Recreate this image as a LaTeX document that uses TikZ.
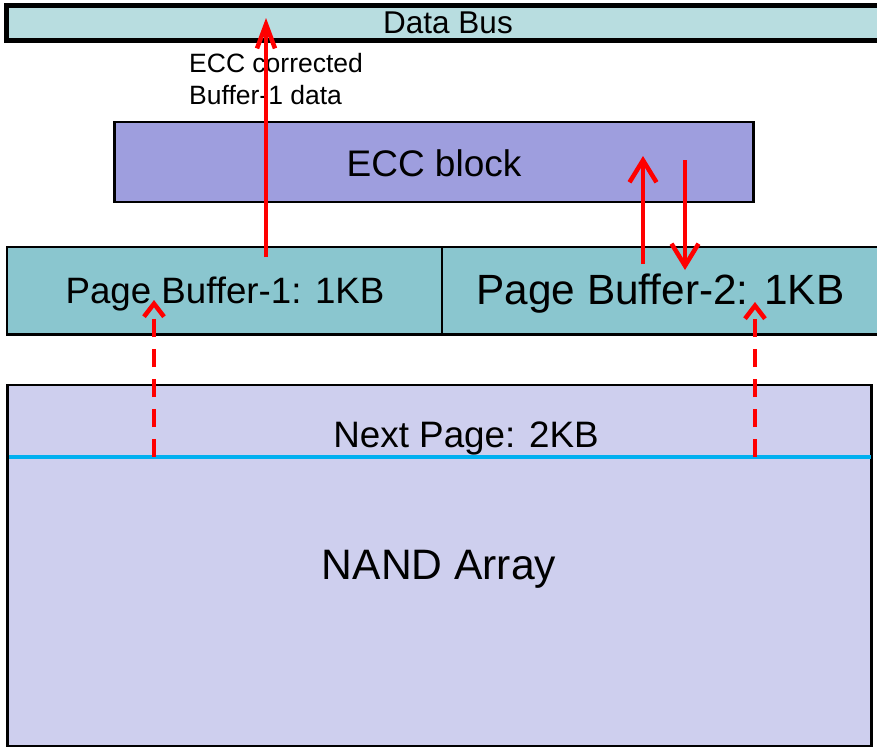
\documentclass[tikz,border=0pt]{standalone}
\usepackage{fontspec}
\setmainfont{Liberation Sans}
\usetikzlibrary{arrows.meta}
\definecolor{busfill}{HTML}{B8DDE0}
\definecolor{eccfill}{HTML}{9E9EDE}
\definecolor{buffill}{HTML}{8AC6CF}
\definecolor{nandfill}{HTML}{CECFEE}
\definecolor{pageline}{HTML}{00B0F0}
\definecolor{flowred}{HTML}{FF0000}
\tikzset{
  x=1pt, y=-1pt,
  blockbox/.style={draw=black, line width=2.2pt},
  flow/.style={draw=flowred, line width=4pt,
    -{Straight Barb[length=22pt,width=27pt,line width=4.5pt]}},
  loadflow/.style={draw=flowred, line width=4pt, dash pattern=on 18pt off 12pt,
    -{Straight Barb[length=13pt,width=20pt,line width=4.5pt]}},
  lbl/.style={inner sep=0pt, text=black}
}
\begin{document}
\begin{tikzpicture}
\useasboundingbox (0,0) rectangle (877,747);
\clip (0,0) rectangle (877,747);

% data bus along the top
\draw[fill=busfill, line width=5pt] (6.5,5.5) rectangle (900,40.5);
\node[lbl, font=\fontsize{31.5}{37}\selectfont] (bus) at (448,23) {Data Bus};
\coordinate (busin) at (266,18);

% ECC engine
\draw[blockbox, fill=eccfill] (114.5,122) rectangle (753.5,202);
\node[lbl, font=\fontsize{37}{43}\selectfont] (ecc) at (434,163) {ECC block};

% two page buffers
\draw[blockbox, fill=buffill] (7,247) rectangle (900,334.5);
\draw[blockbox] (442,247) -- (442,334.5);
\node[lbl, font=\fontsize{36.7}{43}\selectfont] (pb1) at (225,294) {Page Buffer-1: 1KB};
\node[lbl, font=\fontsize{42.3}{49}\selectfont] (pb2) at (660.5,294) {Page Buffer-2: 1KB};

% NAND array with the next page strip
\draw[blockbox, fill=nandfill] (7.5,385) rectangle (871.5,746);
\draw[draw=pageline, line width=4pt] (8.5,457) -- (870.5,457);
\node[lbl, font=\fontsize{36.8}{43}\selectfont] (next) at (466,438) {Next Page: 2KB};
\node[lbl, font=\fontsize{42.6}{49}\selectfont] (nand) at (439,569) {NAND Array};

\node[lbl, align=left, anchor=north west, font=\fontsize{26.5}{32}\selectfont] (note) at (189,53)
  {ECC corrected\\Buffer-1 data};

% transfer paths
\coordinate (b1out) at (266,257);
\coordinate (b2up) at (643,264);
\coordinate (eccup) at (643,156);
\coordinate (eccdn) at (685,160);
\coordinate (b2dn) at (685,270);
\coordinate (p1) at (154,457);
\coordinate (p1t) at (154,300);
\coordinate (p2) at (755,457);
\coordinate (p2t) at (755,302);

\draw[flow, -{Straight Barb[length=24pt,width=18pt,line width=4.5pt]}] (b1out) -- (busin);
\draw[flow] (b2up) -- (eccup);
\draw[flow] (eccdn) -- (b2dn);
\draw[loadflow] (p1) -- (p1t);
\draw[loadflow] (p2) -- (p2t);
\end{tikzpicture}
\end{document}
